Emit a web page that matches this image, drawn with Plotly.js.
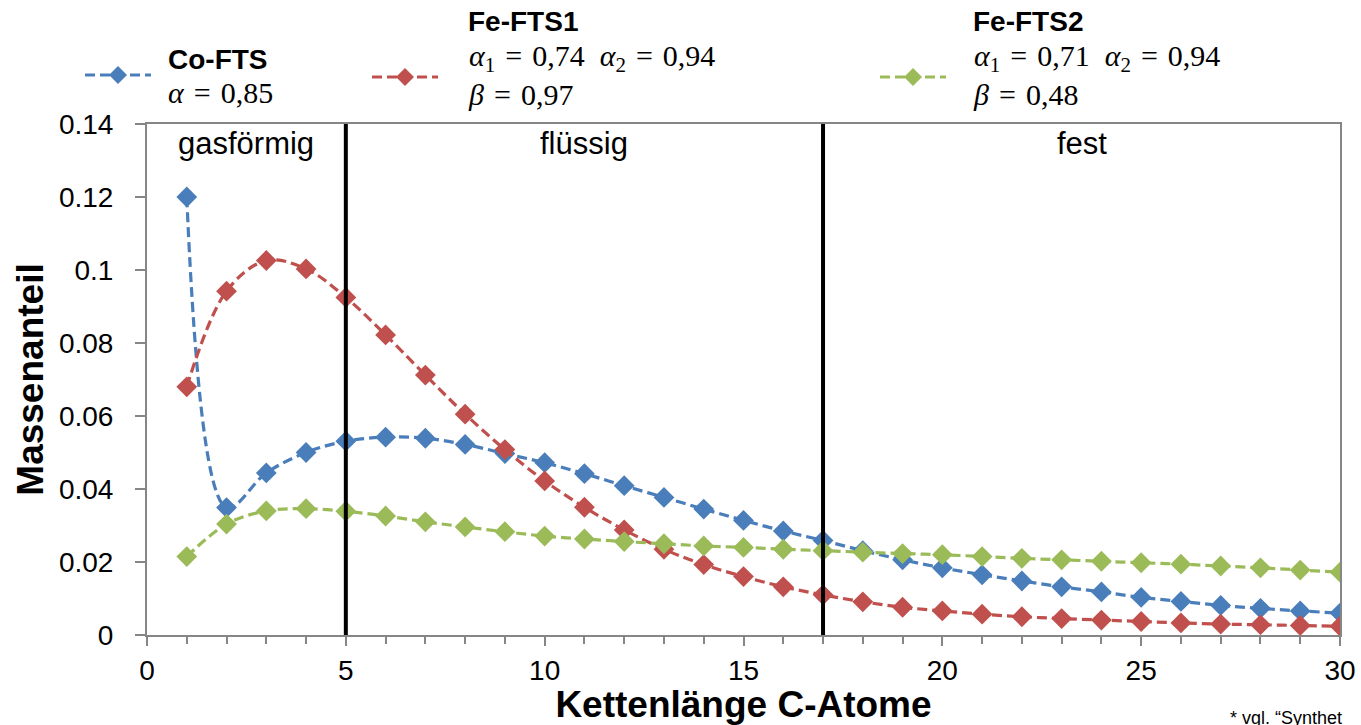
<!DOCTYPE html>
<html><head><meta charset="utf-8">
<script src="https://cdn.plot.ly/plotly-3.0.1.min.js"></script>
<style>html,body{margin:0;padding:0;background:#fff;overflow:hidden}</style>
</head><body><div id="chart" style="width:1361px;height:725px"></div>
<script>
const chainLength = [1,2,3,4,5,6,7,8,9,10,11,12,13,14,15,16,17,18,19,20,21,22,23,24,25,26,27,28,29,30];
const coFTS  = [0.1200,0.0349,0.0444,0.0500,0.0531,0.0542,0.0539,0.0522,0.0497,0.0472,0.0442,0.0409,0.0377,0.0345,0.0314,0.0285,0.0259,0.0231,0.0206,0.0184,0.0165,0.0148,0.0132,0.0118,0.0103,0.0092,0.0081,0.0073,0.0066,0.0060];
const feFTS1 = [0.0680,0.0942,0.1026,0.1003,0.0925,0.0822,0.0712,0.0605,0.0508,0.0422,0.0350,0.0288,0.0235,0.0193,0.0160,0.0132,0.0110,0.0091,0.0076,0.0066,0.0057,0.0050,0.0045,0.0041,0.0037,0.0033,0.0030,0.0028,0.0026,0.0024];
const feFTS2 = [0.0215,0.0304,0.0340,0.0346,0.0339,0.0326,0.0310,0.0296,0.0283,0.0271,0.0263,0.0256,0.0250,0.0244,0.0240,0.0235,0.0231,0.0227,0.0223,0.0220,0.0215,0.0210,0.0206,0.0202,0.0198,0.0194,0.0189,0.0184,0.0178,0.0172];
const seriesNames = ['Co-FTS','Fe-FTS1','Fe-FTS2'];
const EQ = '\u2004=\u2004';
const GAP = '\u2002';
const seriesParams = [
  '<i>α</i>' + EQ + '0,85',
  '<i>α</i><sub>1</sub>' + EQ + '0,74' + GAP + '<i>α</i><sub>2</sub>' + EQ + '0,94<br><i>β</i>' + EQ + '0,97',
  '<i>α</i><sub>1</sub>' + EQ + '0,71' + GAP + '<i>α</i><sub>2</sub>' + EQ + '0,94<br><i>β</i>' + EQ + '0,48'
];
const phaseBoundaries = [5, 17];
const phaseLabels = ['gasförmig','flüssig','fest'];
const xRange = [0, 30];
const yRange = [0, 0.14];
const yTickVals = [0,0.02,0.04,0.06,0.08,0.1,0.12,0.14];
const yTickText = ['0','0.02','0.04','0.06','0.08','0.1','0.12','0.14'];
const xTickVals = [0,5,10,15,20,25,30];
const xTitle = 'Kettenlänge C-Atome';
const yTitle = 'Massenanteil';
const footnote = '* vgl. “Synthet';

const colors = ['#4A7EBB','#C0504D','#9BBB59'];
const W = 1361, H = 725, ML = 147, MR = 21, MT = 124, MB = 90;
const PW = W - ML - MR, PH = H - MT - MB;
const px = x => (x - ML) / PW;
const py = y => (H - MB - y) / PH;
const SANS = 'Liberation Sans, Arial, sans-serif';
const SERIF = 'Liberation Serif, DejaVu Serif, serif';
const axisGray = '#868686';

const data = [coFTS, feFTS1, feFTS2].map((ys, i) => ({
  x: chainLength, y: ys, type: 'scatter', mode: 'lines+markers', name: seriesNames[i],
  line: {color: colors[i], width: 3.2, dash: '10px,5px', shape: 'spline', smoothing: 1},
  marker: {symbol: 'diamond', size: 16, color: colors[i]},
  showlegend: false, hoverinfo: 'x+y'
}));

const shapes = phaseBoundaries.map(b => ({
  type: 'line', xref: 'x', yref: 'y', x0: b, x1: b, y0: yRange[0], y1: yRange[1],
  line: {color: '#000', width: 4}, layer: 'above'
}));

const edges = [xRange[0], ...phaseBoundaries, xRange[1]];
const annotations = phaseLabels.map((t, i) => ({
  text: t, xref: 'x', yref: 'paper', x: (edges[i] + edges[i+1]) / 2, y: py(143),
  xanchor: 'center', yanchor: 'middle', showarrow: false,
  font: {family: SANS, size: 31, color: '#000'}
}));

// legend (drawn manually)
const legendSpec = [
  {cx: 118, cy: 75, tx: 166, titleY: 59, paramY: 93},
  {cx: 405, cy: 77, tx: 466, titleY: 22, paramY: 75},
  {cx: 913, cy: 77, tx: 971, titleY: 22, paramY: 75}
];
legendSpec.forEach((s, i) => {
  shapes.push({type: 'line', xref: 'paper', yref: 'paper', x0: px(s.cx - 33), x1: px(s.cx + 33),
    y0: py(s.cy), y1: py(s.cy), line: {color: colors[i], width: 3.2, dash: '10px,5px'}});
  shapes.push({type: 'path', xref: 'paper', yref: 'paper', xsizemode: 'pixel', ysizemode: 'pixel',
    xanchor: px(s.cx), yanchor: py(s.cy), path: 'M -9 0 L 0 -9 L 9 0 L 0 9 Z',
    fillcolor: colors[i], line: {width: 0}});
  annotations.push({text: '<b>' + seriesNames[i] + '</b>', xref: 'paper', yref: 'paper',
    x: px(s.tx), y: py(s.titleY), xanchor: 'left', yanchor: 'middle', showarrow: false,
    font: {family: SANS, size: 28, color: '#000'}});
  annotations.push({text: seriesParams[i], xref: 'paper', yref: 'paper',
    x: px(s.tx), y: py(s.paramY), xanchor: 'left', yanchor: 'middle', align: 'left', showarrow: false,
    font: {family: SERIF, size: 30, color: '#000'}});
});

annotations.push({text: footnote, xref: 'paper', yref: 'paper', x: px(1228), y: py(718),
  xanchor: 'left', yanchor: 'middle', showarrow: false, font: {family: SANS, size: 18, color: '#000'}});

const layout = {
  width: W, height: H, margin: {l: ML, r: MR, t: MT, b: MB, pad: 0},
  paper_bgcolor: '#fff', plot_bgcolor: '#fff', showlegend: false,
  xaxis: {range: xRange, tickvals: xTickVals, ticks: 'outside', ticklen: 9, tickwidth: 2, tickcolor: axisGray,
    minor: {dtick: 1, tick0: 0, ticks: 'outside', ticklen: 7, tickwidth: 2, tickcolor: axisGray, showgrid: false},
    showline: true, linecolor: axisGray, linewidth: 2, mirror: true, showgrid: false, zeroline: false,
    tickfont: {family: SANS, size: 28, color: '#000'},
    title: {text: '<b>' + xTitle + '</b>', font: {family: SANS, size: 37, color: '#000'}, standoff: 0}},
  yaxis: {range: yRange, tickvals: yTickVals, ticktext: yTickText, ticks: 'outside', ticklen: 10, tickwidth: 2, tickcolor: axisGray,
    showline: true, linecolor: axisGray, linewidth: 2, mirror: true, showgrid: false, zeroline: false,
    tickfont: {family: SANS, size: 28, color: '#000'}, ticklabelstandoff: 16,
    title: {text: '<b>' + yTitle + '</b>', font: {family: SANS, size: 37, color: '#000'}, standoff: 4}},
  yaxis2: {range: yRange, overlaying: 'y', anchor: 'x', side: 'left', tickvals: yTickVals, ticks: 'inside', ticklen: 9,
    tickwidth: 2, tickcolor: axisGray, showticklabels: false, showline: false, showgrid: false, zeroline: false},
  shapes: shapes, annotations: annotations
};

Plotly.newPlot('chart', data, layout, {displayModeBar: false, staticPlot: true});
</script></body></html>
